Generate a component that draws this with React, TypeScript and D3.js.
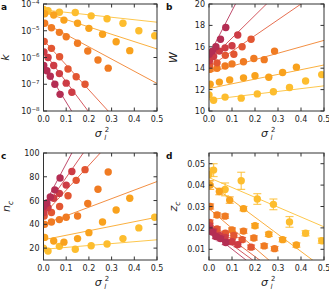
import React from 'react';
import * as d3 from 'd3';

// one colour per series, light (yellow) to dark (crimson)
const colors = ['#fdbd2e', '#f9a21d', '#f07b22', '#e25632', '#cd3c45', '#b42d53'];

// sigma_l^2 of each measured point, per series
const sigma2 = [
  [0.0, 0.02, 0.07, 0.14, 0.21, 0.28, 0.35, 0.42, 0.49],
  [0.005, 0.045, 0.09, 0.15, 0.2, 0.26, 0.32, 0.38],
  [0.005, 0.035, 0.07, 0.1, 0.15, 0.195, 0.24, 0.285],
  [0.003, 0.035, 0.071, 0.108, 0.144, 0.183],
  [0.002, 0.02, 0.045, 0.07, 0.1, 0.125],
  [0.001, 0.015, 0.03, 0.05, 0.073],
];

const kValues = [
  [6.3e-5, 5.6e-5, 4.9e-5, 4.8e-5, 3.6e-5, 2.8e-5, 1.9e-5, 1.0e-5, 6.5e-6],
  [4.3e-5, 3.9e-5, 2.5e-5, 1.9e-5, 1.23e-5, 7.4e-6, 3.9e-6, 1.8e-6],
  [1.9e-5, 1.3e-5, 8.7e-6, 6.0e-6, 3.4e-6, 1.74e-6, 8.1e-7, 4.0e-7],
  [4.0e-6, 2.2e-6, 1.07e-6, 3.7e-7, 1.9e-7, 1.0e-7],
  [1.6e-6, 1.0e-6, 5.0e-7, 2.5e-7, 1.1e-7, 5.0e-8],
  [5.0e-7, 3.2e-7, 2.0e-7, 1.0e-7, 4.2e-8],
];

const wValues = [
  [11.5, 11.0, 11.3, 11.2, 11.6, 11.8, 12.2, 12.8, 13.4],
  [12.5, 12.7, 12.9, 13.1, 13.3, 13.15, 13.6, 14.1],
  [13.9, 14.0, 14.2, 14.4, 14.6, 14.9, 14.8, 15.6],
  [14.3, 14.5, 15.2, 15.3, 16.0, 16.7],
  [14.7, 15.1, 15.6, 15.9, 16.1, 17.1],
  [15.3, 15.6, 16.0, 16.7, 17.8],
];

const ncValues = [
  [20, 17.5, 21.5, 19, 22, 23.5, 28, 37, 46],
  [29, 26, 25, 28, 33, 42, 52, 62],
  [40, 42, 44, 46, 47, 57.5, 69.5, 84],
  [47, 50, 55, 64, 77, 86],
  [50, 54, 62, 66, 73, 84.5],
  [55, 58, 63, 69, 79],
];

const zcValues = [
  [0.045, 0.047, 0.038, 0.042, 0.0335, 0.031, 0.0228, 0.0175, 0.014],
  [0.04, 0.037, 0.033, 0.029, 0.021, 0.017, 0.0145, 0.012],
  [0.03, 0.026, 0.0255, 0.019, 0.0185, 0.0153, 0.0116, 0.0103],
  [0.0225, 0.0195, 0.0175, 0.0165, 0.0145, 0.011],
  [0.021, 0.0185, 0.0165, 0.0155, 0.0135, 0.0122],
  [0.0195, 0.018, 0.016, 0.015, 0.0132],
];

const zcErrors = [
  [0.003, 0.003, 0.003, 0.004, 0.0025, 0.0025, 0.0025, 0.0012, 0.0012],
  [0.002, 0.0015, 0.0015, 0.001, 0.001, 0.001, 0.001, 0.001],
  [0.0012, 0.001, 0.001, 0.001, 0.001, 0.001, 0.001, 0.001],
  [0.0012, 0.001, 0.001, 0.001, 0.001, 0.001],
  [0.001, 0.001, 0.001, 0.001, 0.001, 0.001],
  [0.001, 0.001, 0.001, 0.001, 0.001],
];

// fitted lines: [intercept, slope] per series (panel a in log10 k)
const kFit = [[-4.22, -0.92], [-4.31, -2.74], [-4.69, -4.56], [-5.35, -9.3], [-5.78, -11.3], [-6.28, -13.9]];
const wFit = [[11.05, 2.6], [12.1, 4.4], [13.6, 6.0], [14.1, 14.75], [14.7, 21.2], [15.2, 41.7]];
const ncFit = [[19, 16], [27, 38], [40, 72], [48, 208], [52, 274], [55, 360]];
const zcFit = [[0.0435, -0.046], [0.041, -0.08], [0.029, -0.0923], [0.0225, -0.0795], [0.02, -0.079], [0.0185, -0.084]];

const xTicks = [0, 0.1, 0.2, 0.3, 0.4, 0.5];

const FONT = 'DejaVu Sans, sans-serif';
const TICK = 3.5;
const AX = '#333';

const Sigma = ({ x, y }) => (
  <g fontFamily={FONT} fill="#222">
    <text x={x - 2} y={y} fontSize={11} fontStyle="italic" textAnchor="middle">σ</text>
    <text x={x + 4.5} y={y - 5} fontSize={7}>2</text>
    <text x={x + 4} y={y + 2.5} fontSize={7} fontStyle="italic">l</text>
  </g>
);

const Panel = ({ id, letter, x0, x1, y0, y1, yScaleType, yDomain, yTicks, yFormat, values, fits, errors, ylabel, lx, letterX }) => {
  const x = d3.scaleLinear().domain([0, 0.5]).range([x0, x1]);
  const y = yScaleType === 'log'
    ? d3.scaleLog().domain(yDomain).range([y1, y0])
    : d3.scaleLinear().domain(yDomain).range([y1, y0]);
  const fitY = (f, s) => (yScaleType === 'log' ? Math.pow(10, f[0] + f[1] * s) : f[0] + f[1] * s);
  const line = d3.line().x(d => x(d[0])).y(d => y(d[1]));
  const cy = (y0 + y1) / 2;
  const cx = (x0 + x1) / 2;
  return (
    <g>
      <defs>
        <clipPath id={'clip-' + id}>
          <rect x={x0} y={y0} width={x1 - x0} height={y1 - y0} />
        </clipPath>
      </defs>
      <g clipPath={`url(#clip-${id})`}>
        {fits.map((f, i) => (
          <path key={'l' + i} d={line([[0, fitY(f, 0)], [0.5, fitY(f, 0.5)]])}
            stroke={colors[i]} strokeWidth={1} fill="none" strokeOpacity={0.85} />
        ))}
        {values.map((vals, i) => (
          <g key={'s' + i}>
            {errors && vals.map((v, j) => {
              const e = errors[i][j];
              const px = x(sigma2[i][j]);
              return (
                <g key={'e' + j} stroke={colors[i]} strokeWidth={1.2} strokeOpacity={0.8}>
                  <line x1={px} x2={px} y1={y(v - e)} y2={y(v + e)} />
                  <line x1={px - 4} x2={px + 4} y1={y(v - e)} y2={y(v - e)} />
                  <line x1={px - 4} x2={px + 4} y1={y(v + e)} y2={y(v + e)} />
                </g>
              );
            })}
            {vals.map((v, j) => (
              <circle key={'c' + j} cx={x(sigma2[i][j])} cy={y(v)} r={3.7} fill={colors[i]} />
            ))}
          </g>
        ))}
      </g>
      <rect x={x0} y={y0} width={x1 - x0} height={y1 - y0} fill="none" stroke={AX} strokeWidth={1} />
      {xTicks.map(t => (
        <g key={'xt' + t}>
          <line x1={x(t)} x2={x(t)} y1={y1} y2={y1 - TICK} stroke={AX} />
          <line x1={x(t)} x2={x(t)} y1={y0} y2={y0 + TICK} stroke={AX} />
          <text x={x(t)} y={y1 + 11} fontSize={8} fontFamily={FONT} textAnchor="middle" fill="#222">{t.toFixed(1)}</text>
        </g>
      ))}
      {yTicks.map(t => (
        <g key={'yt' + t}>
          <line x1={x0} x2={x0 + TICK} y1={y(t)} y2={y(t)} stroke={AX} />
          <line x1={x1} x2={x1 - TICK} y1={y(t)} y2={y(t)} stroke={AX} />
          {yFormat(t, x0 - 4, y(t) + 3)}
        </g>
      ))}
      <text x={letterX} y={y0 + 6} fontSize={9} fontWeight="bold" fontFamily={FONT} fill="#111">{letter}</text>
      <g transform={`translate(${lx},${cy}) rotate(-90)`}>{ylabel}</g>
      <Sigma x={cx} y={y1 + 26} />
    </g>
  );
};

const plainFmt = digits => (t, px, py) => (
  <text x={px} y={py} fontSize={8} fontFamily={FONT} textAnchor="end" fill="#222">{t.toFixed(digits)}</text>
);

const logFmt = (t, px, py) => (
  <text x={px} y={py} fontSize={8} fontFamily={FONT} textAnchor="end" fill="#222">
    10<tspan dy={-3.5} fontSize={5.5}>{'\u2212' + Math.round(-Math.log10(t))}</tspan>
  </text>
);

const italic = (main, sub) => (
  <text textAnchor="middle" fontSize={11} fontFamily={FONT} fontStyle="italic" fill="#222">
    {main}{sub && <tspan dy={2.5} fontSize={7.5}>{sub}</tspan>}
  </text>
);

const App = () => {
  const L = [43.5, 157];
  const R = [209, 324];
  const T = [4, 111];
  const B = [153, 260];
  return (
    <svg width={329} height={293} style={{ position: 'absolute', left: 0, top: 0, background: '#fff' }}>
      <Panel id="a" letter="a" letterX={1} x0={L[0]} x1={L[1]} y0={T[0]} y1={T[1]} yScaleType="log"
        yDomain={[1e-8, 1e-4]} yTicks={[1e-8, 1e-7, 1e-6, 1e-5, 1e-4]} yFormat={logFmt}
        values={kValues} fits={kFit} ylabel={italic('k')} lx={9} />
      <Panel id="b" letter="b" letterX={166} x0={R[0]} x1={R[1]} y0={T[0]} y1={T[1]} yScaleType="lin"
        yDomain={[10, 20]} yTicks={[10, 12, 14, 16, 18, 20]} yFormat={plainFmt(0)}
        values={wValues} fits={wFit} ylabel={italic('W')} lx={177} />
      <Panel id="c" letter="c" letterX={1} x0={L[0]} x1={L[1]} y0={B[0]} y1={B[1]} yScaleType="lin"
        yDomain={[10, 100]} yTicks={[20, 40, 60, 80, 100]} yFormat={plainFmt(0)}
        values={ncValues} fits={ncFit} ylabel={italic('n', 'c')} lx={10} />
      <Panel id="d" letter="d" letterX={166} x0={R[0]} x1={R[1]} y0={B[0]} y1={B[1]} yScaleType="lin"
        yDomain={[0.005, 0.055]} yTicks={[0.01, 0.02, 0.03, 0.04, 0.05]} yFormat={plainFmt(2)}
        values={zcValues} fits={zcFit} errors={zcErrors} ylabel={italic('z', 'c')} lx={177} />
    </svg>
  );
};

export default App;
